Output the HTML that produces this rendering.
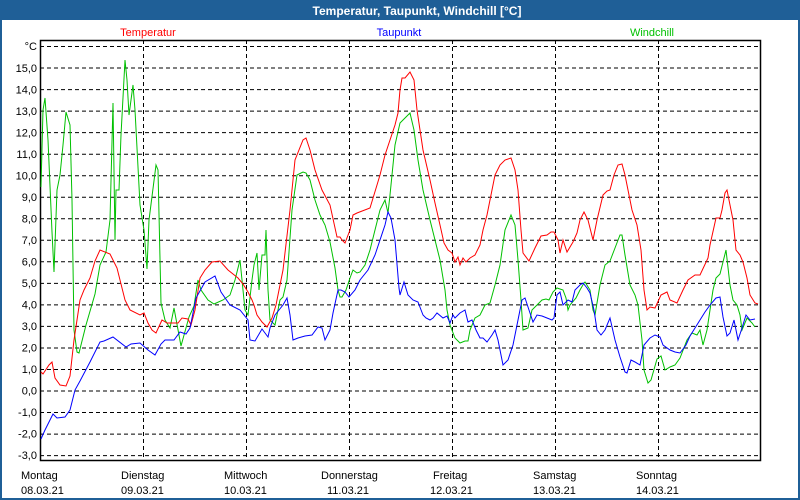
<!DOCTYPE html>
<html><head><meta charset="utf-8"><style>
body{margin:0;width:800px;height:500px;overflow:hidden;background:#fff}
svg{display:block;font-family:"Liberation Sans",sans-serif}
</style></head><body>
<svg width="800" height="500" viewBox="0 0 800 500">
<rect x="0" y="0" width="800" height="500" fill="#1f5f97"/>
<rect x="2" y="20" width="796" height="478" fill="#fff"/>
<text x="417" y="15" text-anchor="middle" font-size="12" font-weight="bold" fill="#fff">Temperatur, Taupunkt, Windchill [°C]</text>
<text x="148" y="36" text-anchor="middle" font-size="11" fill="#ff0000">Temperatur</text>
<text x="399" y="36" text-anchor="middle" font-size="11" fill="#0000ff">Taupunkt</text>
<text x="652" y="36" text-anchor="middle" font-size="11" fill="#00c000">Windchill</text>
<g stroke="#000" stroke-width="1" stroke-dasharray="4,3" fill="none">
<path d="M40 46.5H760M40 68H760M40 89.6H760M40 111.1H760M40 132.6H760M40 154.2H760M40 175.7H760M40 197.3H760M40 218.8H760M40 240.3H760M40 261.8H760M40 283.4H760M40 304.9H760M40 326.4H760M40 348H760M40 369.5H760M40 391H760M40 412.5H760M40 434.1H760M40 455.6H760"/>
<path d="M143.5 40V460M246.5 40V460M349.5 40V460M452.5 40V460M555.5 40V460M658.5 40V460"/>
</g>
<rect x="40.5" y="40.5" width="720" height="420" fill="none" stroke="#000" stroke-width="1.5"/>
<g font-size="11" fill="#000" text-anchor="end">
<text x="37" y="50">°C</text>
<text x="37" y="72">15,0</text><text x="37" y="93.5">14,0</text><text x="37" y="115">13,0</text><text x="37" y="136.5">12,0</text><text x="37" y="158">11,0</text><text x="37" y="179.5">10,0</text><text x="37" y="201">9,0</text><text x="37" y="222.5">8,0</text><text x="37" y="244">7,0</text><text x="37" y="265.5">6,0</text><text x="37" y="287">5,0</text><text x="37" y="308.5">4,0</text><text x="37" y="330">3,0</text><text x="37" y="351.5">2,0</text><text x="37" y="373">1,0</text><text x="37" y="394.5">0,0</text><text x="37" y="416">-1,0</text><text x="37" y="437.5">-2,0</text><text x="37" y="459">-3,0</text>
</g>
<g font-size="11" fill="#000">
<text x="21" y="479">Montag</text><text x="21" y="494">08.03.21</text>
<text x="121" y="479">Dienstag</text><text x="121" y="494">09.03.21</text>
<text x="224" y="479">Mittwoch</text><text x="224" y="494">10.03.21</text>
<text x="321" y="479">Donnerstag</text><text x="327" y="494">11.03.21</text>
<text x="433" y="479">Freitag</text><text x="430" y="494">12.03.21</text>
<text x="533" y="479">Samstag</text><text x="533" y="494">13.03.21</text>
<text x="636" y="479">Sonntag</text><text x="636" y="494">14.03.21</text>
</g>
<g fill="none" stroke-width="1">
<polyline stroke="#00c000" points="41,187 43,110 45,98 48,140 52,232 54,272 57,190 60,175 63,145 66,112 70,125 72,200 74,330 77,352 79,353 86,325 95,294 100,265 106,252 110,220 113,103 115,240 116,190 119,190 121,135 125,60 127,80 129,115 133,85 135,110 140,205 144,230 147,269 149,220 156,165 158,170 161,303 165,320 170,328 174,308 181,346 189,317 194,306 198,280 201,290 208,300 214,304 223,300 230,295 235,280 240,260 242,280 245,310 248,315 252,280 254,265 257,253 259,290 262,255 265,255 266,230 268,290 270,320 275,325 280,300 283,297 287,280 292,210 297,175 303,172 306,173 310,180 315,200 320,215 325,225 330,242 335,268 338,290 340,297 342,297 346,290 350,278 353,270 357,273 360,272 365,265 370,250 375,230 380,210 385,200 388,213 390,195 395,145 400,123 405,118 410,113 414,130 418,160 423,190 430,220 440,260 445,290 447,310 450,325 455,338 460,343 465,341 468,341 470,330 475,318 480,315 485,305 490,303 495,285 500,265 505,230 511,215 515,225 518,260 521,300 523,330 528,328 532,310 537,305 542,300 546,299 549,300 553,292 557,288 563,290 566,298 568,310 570,305 576,298 580,290 584,283 585,282 590,290 593,310 595,315 600,285 605,265 610,261 615,248 620,235 622,235 625,255 630,285 635,295 638,305 642,340 644,370 648,383 651,380 657,359 661,356 665,370 670,367 675,365 680,358 687,340 692,333 697,335 700,330 703,345 707,330 713,290 716,278 720,274 723,262 726,250 730,285 733,300 737,305 740,315 742,330 747,318 752,323 755,327"/>
<polyline stroke="#ff0000" points="41,372 43,374 49,365 52,362 55,378 60,385 66,386 70,376 74,340 80,300 84,290 90,278 95,261 100,250 110,254 117,268 125,300 130,310 140,315 144,313 148,323 152,330 156,333 162,320 167,323 178,323 182,318 188,319 191,325 195,310 200,278 205,270 212,262 220,261 228,270 238,278 243,284 248,292 252,300 254,305 257,315 262,322 267,327 272,318 276,305 283,270 290,210 295,160 303,140 306,138 310,150 315,170 322,190 330,205 337,237 340,237 342,240 345,243 350,230 353,215 357,213 370,208 377,185 380,175 385,155 390,140 395,125 398,113 400,90 402,78 405,78 410,72 414,80 417,110 420,130 423,150 430,180 435,203 440,225 444,243 448,250 452,253 455,262 458,257 460,265 463,258 466,262 470,258 475,255 480,245 483,230 487,215 490,200 495,175 500,165 505,160 511,158 515,170 518,190 521,230 523,253 529,261 535,248 541,236 547,235 551,232 554,232 558,240 560,253 563,240 567,252 573,242 577,233 580,220 584,212 588,220 590,228 593,240 597,220 603,195 607,191 610,190 614,175 618,165 622,164 625,175 628,190 632,210 637,225 641,250 644,290 647,310 650,307 655,308 661,295 667,292 670,300 677,303 683,290 688,280 695,275 700,275 708,258 710,245 716,218 720,218 722,210 725,193 727,190 730,205 733,220 736,250 740,255 743,262 747,278 750,295 755,303 758,304"/>
<polyline stroke="#0000ff" points="41,439 45,430 53,414 57,418 65,417 70,410 75,390 80,381 90,362 100,342 104,341 113,337 126,347 131,344 140,343 148,350 155,355 161,344 165,340 174,340 180,332 186,334 190,328 196,298 205,282 215,276 221,292 230,305 240,310 248,320 250,340 255,341 262,329 268,337 270,328 275,315 283,305 287,298 290,315 293,340 298,338 305,336 312,335 318,327 322,328 325,340 330,330 333,313 338,290 341,290 345,292 349,297 355,290 360,280 368,270 375,255 380,240 385,225 388,212 391,218 395,240 399,288 400,295 404,282 408,295 413,300 418,302 423,315 426,318 430,320 433,318 437,313 443,318 447,316 450,323 453,315 455,318 460,313 465,310 468,322 472,320 476,330 480,338 483,338 487,342 492,335 495,330 498,340 503,365 508,360 513,345 518,320 522,300 525,298 529,310 533,322 537,315 542,316 547,318 552,320 554,318 557,295 560,292 563,305 568,300 572,302 575,290 580,285 583,283 587,288 590,293 594,310 597,330 601,335 605,330 610,318 615,340 620,357 625,372 627,373 631,360 635,362 640,365 644,345 650,338 655,335 660,337 663,345 670,350 675,352 680,353 686,345 690,336 695,328 700,320 705,312 710,305 716,298 720,297 723,317 727,336 730,333 734,320 738,340 742,328 746,315 750,320 755,319"/>
</g>
</svg>
</body></html>
